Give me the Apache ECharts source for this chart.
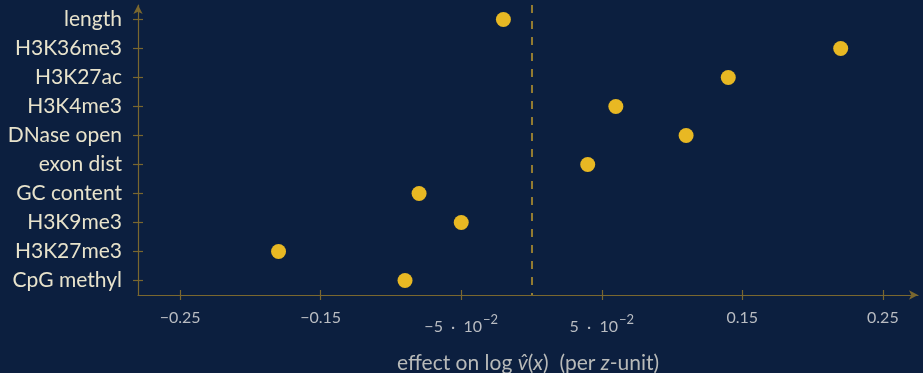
<!DOCTYPE html>
<html>
<head>
<meta charset="utf-8">
<script src="https://cdn.jsdelivr.net/npm/echarts@6/dist/echarts.min.js"></script>
<style>
html,body{margin:0;padding:0;background:#0c1f3f;}
#chart{width:923px;height:373px;}
</style>
</head>
<body>
<div id="chart"></div>
<script>
// Features, listed top to bottom
const features = ['length','H3K36me3','H3K27ac','H3K4me3','DNase open','exon dist','GC content','H3K9me3','H3K27me3','CpG methyl'];
// Effect on log v-hat(x) per z-unit
const effects = [-0.02, 0.22, 0.14, 0.06, 0.11, 0.04, -0.08, -0.05, -0.18, -0.09];
// x-axis tick values
const xTicks = [-0.25, -0.15, -0.05, 0.05, 0.15, 0.25];
const xLabelText = {'-0.25':'{b|−0.25}','-0.15':'{b|−0.15}','-0.05':'{b|−5  ·  10}{s|−2}','0.05':'{b|5  ·  10}{s|−2}','0.15':'{b|0.15}','0.25':'{b|0.25}'};

const axisColor = '#7a672f';
const font = 'Lato';

const chart = echarts.init(document.getElementById('chart'));
const xBase = {
  type:'value', min:-0.28, max:0.275, position:'bottom',
  splitLine:{show:false}
};
chart.setOption({
  backgroundColor:'#0c1f3f',
  animation:false,
  grid:{left:138, right:5, top:5, bottom:78, containLabel:false, outerBoundsMode:'none'},
  xAxis:[
    Object.assign({}, xBase, {
      axisLine:{show:true, onZero:false, lineStyle:{color:axisColor, width:1.2}, symbol:['none','arrow'], symbolSize:[7,9]},
      axisTick:{show:true, inside:false, length:5, lineStyle:{color:axisColor, width:1.2}, customValues:xTicks},
      axisLabel:{
        show:true, margin:15, customValues:xTicks,
        formatter:function(v){ const k = String(Math.round(v*100)/100); return xLabelText[k] || v; },
        rich:{
          b:{fontFamily:font, fontSize:16, color:'#b9bcc2', verticalAlign:'bottom'},
          s:{fontFamily:font, fontSize:13, color:'#b9bcc2', verticalAlign:'bottom', padding:[3,0,9,1]}
        }
      },
      name:'effect on log {i|v̂}({i|x})  (per {i|z}-unit)',
      nameLocation:'middle', nameGap:58,
      nameTextStyle:{fontFamily:font, fontSize:21, color:'#b8bab9',
        rich:{i:{fontFamily:font, fontSize:21, fontStyle:'italic', color:'#b8bab9'}}}
    }),
    Object.assign({}, xBase, {
      axisLine:{show:false, onZero:false},
      axisTick:{show:true, inside:true, length:5, lineStyle:{color:axisColor, width:1.2}, customValues:xTicks},
      axisLabel:{show:false}
    })
  ],
  yAxis:[
    {
      type:'category', data:features, inverse:true,
      axisLine:{show:true, onZero:false, lineStyle:{color:axisColor, width:1.2}, symbol:['none','arrow'], symbolSize:[7,9]},
      axisTick:{show:true, alignWithLabel:true, inside:false, length:5, lineStyle:{color:axisColor, width:1.2}},
      axisLabel:{margin:16, fontFamily:font, fontSize:21, color:'#e8e3cc'},
      splitLine:{show:false}
    },
    {
      type:'category', data:features, inverse:true, position:'left',
      axisLine:{show:false, onZero:false},
      axisTick:{show:true, alignWithLabel:true, inside:true, length:5, lineStyle:{color:axisColor, width:1.2}},
      axisLabel:{show:false},
      splitLine:{show:false}
    }
  ],
  series:[{
    type:'scatter',
    data: effects.map((v,i)=>[v, features[i]]),
    symbolSize:15,
    itemStyle:{color:'#e8b823', opacity:1},
    markLine:{
      silent:true, symbol:['none','none'], label:{show:false},
      lineStyle:{color:'#c09a2e', type:[8,8], width:1.5},
      data:[{xAxis:0}]
    }
  }]
});
</script>
</body>
</html>
